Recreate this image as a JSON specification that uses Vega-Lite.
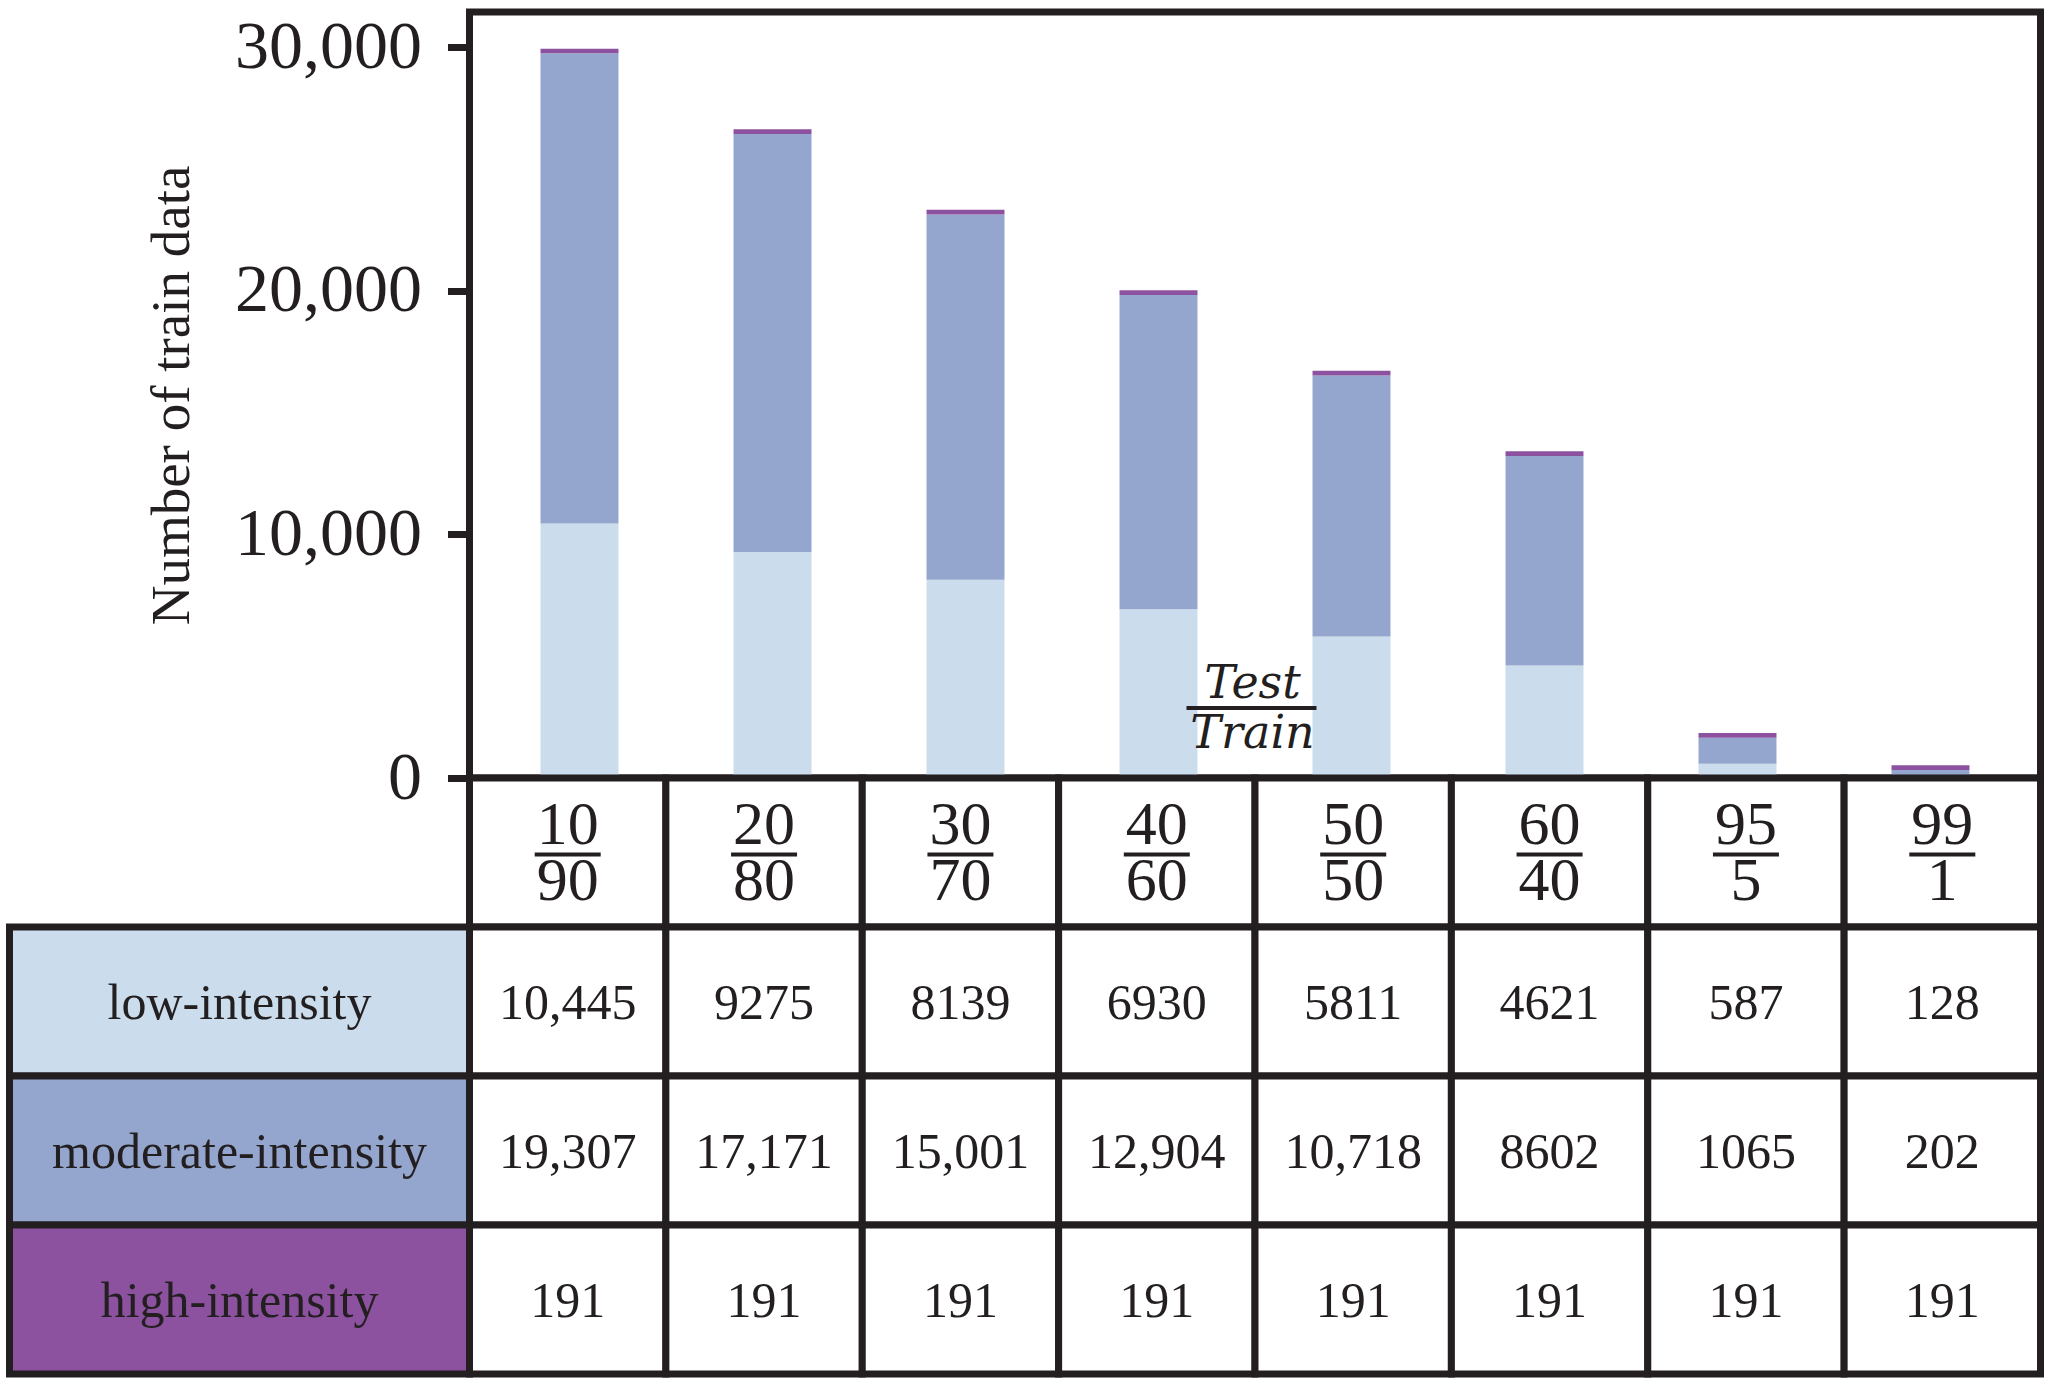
{
  "$schema": "https://vega.github.io/schema/vega-lite/v6.json",
  "padding": {"left": 5.5, "top": 8, "right": 10, "bottom": 6},
  "background": "white",
  "config": {
    "view": {"stroke": null},
    "font": "Liberation Serif",
    "text": {"font": "Liberation Serif", "color": "#231f20"},
    "axis": {"labelFont": "Liberation Serif", "titleFont": "Liberation Serif"}
  },
  "datasets": {
    "splits": [
      {"split": "10/90", "test": "10", "train": "90"},
      {"split": "20/80", "test": "20", "train": "80"},
      {"split": "30/70", "test": "30", "train": "70"},
      {"split": "40/60", "test": "40", "train": "60"},
      {"split": "50/50", "test": "50", "train": "50"},
      {"split": "60/40", "test": "60", "train": "40"},
      {"split": "95/5", "test": "95", "train": "5"},
      {"split": "99/1", "test": "99", "train": "1"}
    ],
    "levels": [
      {"intensity": "low-intensity"},
      {"intensity": "moderate-intensity"},
      {"intensity": "high-intensity"}
    ],
    "counts": [
      {"split": "10/90", "intensity": "low-intensity", "level": 1, "count": 10445},
      {"split": "10/90", "intensity": "moderate-intensity", "level": 2, "count": 19307},
      {"split": "10/90", "intensity": "high-intensity", "level": 3, "count": 191},
      {"split": "20/80", "intensity": "low-intensity", "level": 1, "count": 9275},
      {"split": "20/80", "intensity": "moderate-intensity", "level": 2, "count": 17171},
      {"split": "20/80", "intensity": "high-intensity", "level": 3, "count": 191},
      {"split": "30/70", "intensity": "low-intensity", "level": 1, "count": 8139},
      {"split": "30/70", "intensity": "moderate-intensity", "level": 2, "count": 15001},
      {"split": "30/70", "intensity": "high-intensity", "level": 3, "count": 191},
      {"split": "40/60", "intensity": "low-intensity", "level": 1, "count": 6930},
      {"split": "40/60", "intensity": "moderate-intensity", "level": 2, "count": 12904},
      {"split": "40/60", "intensity": "high-intensity", "level": 3, "count": 191},
      {"split": "50/50", "intensity": "low-intensity", "level": 1, "count": 5811},
      {"split": "50/50", "intensity": "moderate-intensity", "level": 2, "count": 10718},
      {"split": "50/50", "intensity": "high-intensity", "level": 3, "count": 191},
      {"split": "60/40", "intensity": "low-intensity", "level": 1, "count": 4621},
      {"split": "60/40", "intensity": "moderate-intensity", "level": 2, "count": 8602},
      {"split": "60/40", "intensity": "high-intensity", "level": 3, "count": 191},
      {"split": "95/5", "intensity": "low-intensity", "level": 1, "count": 587},
      {"split": "95/5", "intensity": "moderate-intensity", "level": 2, "count": 1065},
      {"split": "95/5", "intensity": "high-intensity", "level": 3, "count": 191},
      {"split": "99/1", "intensity": "low-intensity", "level": 1, "count": 128},
      {"split": "99/1", "intensity": "moderate-intensity", "level": 2, "count": 202},
      {"split": "99/1", "intensity": "high-intensity", "level": 3, "count": 191}
    ]
  },
  "spacing": 0,
  "bounds": "flush",
  "columns": 2,
  "concat": [
    {
      "width": 460,
      "height": 766,
      "data": {"values": [{}]},
      "mark": {"type": "point", "opacity": 0}
    },
    {
      "width": 1571,
      "height": 766,
      "view": {"stroke": "#231f20", "strokeWidth": 7},
      "layer": [
        {
          "data": {"name": "counts"},
          "mark": {"type": "bar"},
          "encoding": {
            "x": {
              "field": "split",
              "type": "nominal",
              "sort": ["10/90", "20/80", "30/70", "40/60", "50/50", "60/40", "95/5", "99/1"],
              "scale": {"paddingInner": 0.596, "paddingOuter": 0.368},
              "axis": null
            },
            "y": {
              "field": "count",
              "type": "quantitative",
              "stack": "zero",
              "scale": {"domain": [0, 31450], "nice": false, "zero": true},
              "axis": {
                "values": [0, 10000, 20000, 30000],
                "labelExpr": "format(datum.value, ',')",
                "labelFontSize": 68,
                "labelColor": "#231f20",
                "labelPadding": 26,
                "labelLimit": 400,
                "labelFlush": false,
                "labelOverlap": false,
                "tickSize": 22,
                "tickWidth": 7,
                "tickColor": "#231f20",
                "domain": false,
                "grid": false,
                "title": "Number of train data",
                "titleFontSize": 55,
                "titleFontWeight": "normal",
                "titleColor": "#231f20",
                "titlePadding": 69
              }
            },
            "color": {
              "field": "intensity",
              "type": "nominal",
              "scale": {
                "domain": ["low-intensity", "moderate-intensity", "high-intensity"],
                "range": ["#cbdcec", "#94a6ce", "#8c52a0"]
              },
              "legend": null
            },
            "order": {"field": "level", "type": "quantitative", "sort": "ascending"}
          }
        },
        {
          "data": {"values": [{"num": "Test", "den": "Train"}]},
          "mark": {"type": "text", "font": "DejaVu Serif", "fontStyle": "italic", "fontSize": 46, "baseline": "alphabetic", "align": "center", "dx": 94, "dy": -10},
          "encoding": {
            "x": {"datum": "40/60", "type": "nominal"},
            "y": {"datum": 2875, "type": "quantitative"},
            "text": {"field": "num"}
          }
        },
        {
          "data": {"values": [{"num": "Test", "den": "Train"}]},
          "mark": {"type": "text", "font": "DejaVu Serif", "fontStyle": "italic", "fontSize": 46, "baseline": "alphabetic", "align": "center", "dx": 94, "dy": 40},
          "encoding": {
            "x": {"datum": "40/60", "type": "nominal"},
            "y": {"datum": 2875, "type": "quantitative"},
            "text": {"field": "den"}
          }
        },
        {
          "data": {"values": [{"num": "Test", "den": "Train"}]},
          "mark": {"type": "rule", "color": "#231f20", "strokeWidth": 4, "xOffset": 28, "x2Offset": 158},
          "encoding": {
            "x": {"datum": "40/60", "type": "nominal"},
            "x2": {"datum": "40/60"},
            "y": {"datum": 2875, "type": "quantitative"}
          }
        }
      ]
    },
    {
      "width": 460,
      "height": 596,
      "data": {"name": "levels"},
      "layer": [
        {
          "mark": {"type": "rect", "stroke": "#231f20", "strokeWidth": 7},
          "encoding": {
            "y": {
              "field": "intensity",
              "type": "nominal",
              "scale": {"domain": ["header", "low-intensity", "moderate-intensity", "high-intensity"], "paddingInner": 0, "paddingOuter": 0},
              "axis": null
            },
            "fill": {
              "field": "intensity",
              "type": "nominal",
              "scale": {
                "domain": ["low-intensity", "moderate-intensity", "high-intensity"],
                "range": ["#cbdcec", "#94a6ce", "#8c52a0"]
              },
              "legend": null
            }
          }
        },
        {
          "mark": {"type": "text", "fontSize": 50, "baseline": "alphabetic", "align": "center", "dy": 17},
          "encoding": {
            "y": {"field": "intensity", "type": "nominal"},
            "text": {"field": "intensity"}
          }
        }
      ]
    },
    {
      "width": 1571,
      "height": 596,
      "encoding": {
        "x": {
          "field": "split",
          "type": "nominal",
          "sort": ["10/90", "20/80", "30/70", "40/60", "50/50", "60/40", "95/5", "99/1"],
          "scale": {"paddingInner": 0, "paddingOuter": 0},
          "axis": null
        }
      },
      "layer": [
        {
          "data": {"name": "splits"},
          "mark": {"type": "rect", "fill": "white", "stroke": "#231f20", "strokeWidth": 7},
          "encoding": {
            "y": {
              "datum": "header",
              "type": "nominal",
              "scale": {"domain": ["header", "low-intensity", "moderate-intensity", "high-intensity"], "paddingInner": 0, "paddingOuter": 0},
              "axis": null
            }
          }
        },
        {
          "data": {"name": "counts"},
          "mark": {"type": "rect", "fill": "white", "stroke": "#231f20", "strokeWidth": 7},
          "encoding": {
            "y": {"field": "intensity", "type": "nominal"}
          }
        },
        {
          "data": {"name": "splits"},
          "mark": {"type": "text", "fontSize": 62, "baseline": "alphabetic", "align": "center", "dy": -9},
          "encoding": {
            "y": {"datum": "header", "type": "nominal"},
            "text": {"field": "test"}
          }
        },
        {
          "data": {"name": "splits"},
          "mark": {"type": "text", "fontSize": 62, "baseline": "alphabetic", "align": "center", "dy": 47},
          "encoding": {
            "y": {"datum": "header", "type": "nominal"},
            "text": {"field": "train"}
          }
        },
        {
          "data": {"name": "splits"},
          "mark": {"type": "tick", "orient": "horizontal", "size": 66, "thickness": 4, "color": "#231f20", "opacity": 1, "yOffset": 2},
          "encoding": {
            "y": {"datum": "header", "type": "nominal"}
          }
        },
        {
          "data": {"name": "counts"},
          "mark": {"type": "text", "fontSize": 50, "baseline": "alphabetic", "align": "center", "dy": 17},
          "encoding": {
            "y": {"field": "intensity", "type": "nominal"},
            "text": {
              "condition": {"test": "datum.count >= 10000", "field": "count", "type": "quantitative", "format": ","},
              "field": "count",
              "type": "quantitative",
              "format": "d"
            }
          }
        }
      ]
    }
  ]
}
